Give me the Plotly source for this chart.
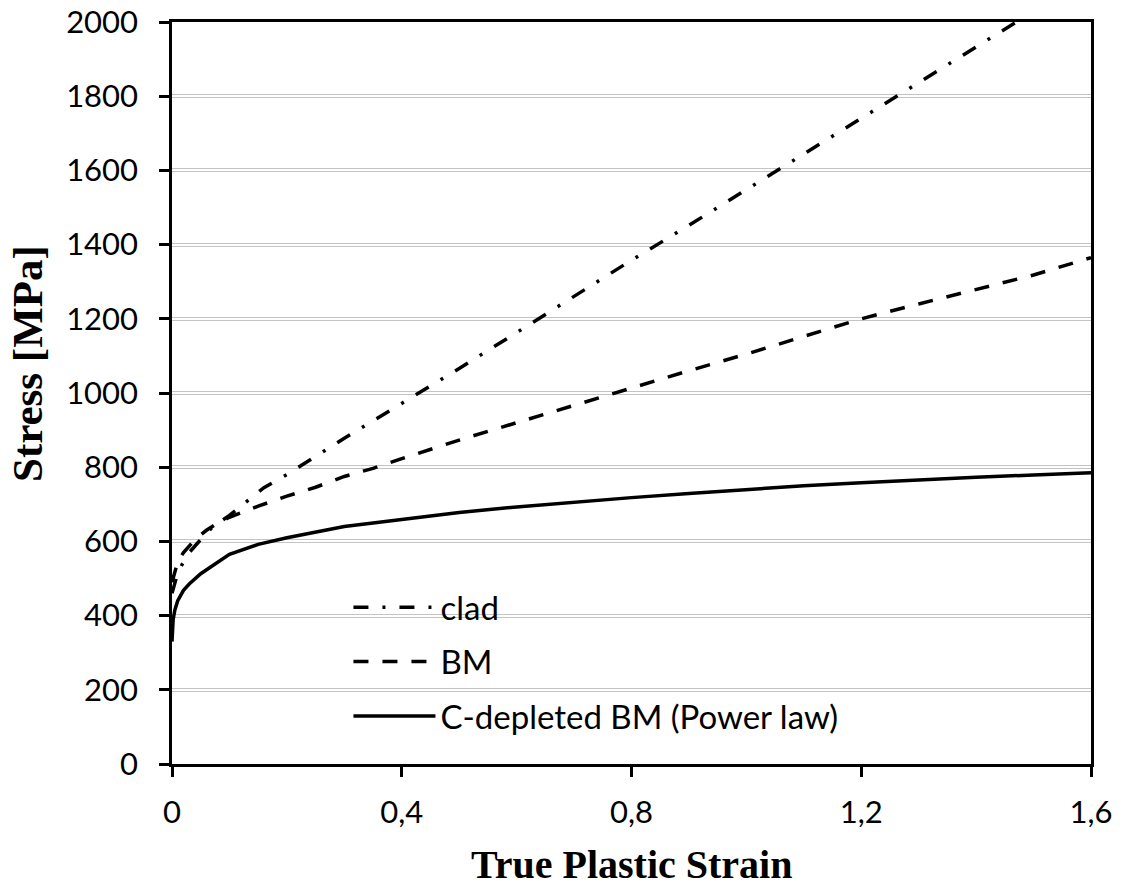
import plotly.graph_objects as go

# ---- data ----
clad_x = [0, 0.005, 0.01, 0.02, 0.03, 0.05, 0.07, 0.1, 0.13, 0.16, 0.2, 0.25, 0.3, 0.35, 0.4,
          0.5, 0.6, 0.7, 0.8, 0.9, 1.0, 1.1, 1.2, 1.3, 1.4, 1.47]
clad_y = [460, 490, 515, 545, 570, 605, 638, 670, 707, 745, 780, 830, 878, 925, 972,
          1066, 1163, 1260, 1358, 1452, 1548, 1645, 1740, 1835, 1932, 2000]

bm_x = [0, 0.005, 0.01, 0.02, 0.04, 0.06, 0.08, 0.1, 0.15, 0.2, 0.25, 0.3, 0.35, 0.4,
        0.5, 0.6, 0.7, 0.8, 0.9, 1.0, 1.1, 1.2, 1.3, 1.4, 1.5, 1.6]
bm_y = [490, 520, 545, 570, 605, 630, 650, 665, 695, 722, 746, 775, 797, 823,
        873, 920, 967, 1012, 1060, 1105, 1153, 1200, 1240, 1280, 1318, 1365]

cdep_x = [0, 0.002, 0.005, 0.01, 0.02, 0.03, 0.05, 0.075, 0.1, 0.15, 0.2, 0.3, 0.4, 0.5,
          0.6, 0.7, 0.8, 0.9, 1.0, 1.1, 1.2, 1.3, 1.4, 1.5, 1.6]
cdep_y = [330, 390, 415, 440, 468, 485, 513, 540, 565, 592, 610, 640, 660, 678,
          693, 706, 718, 729, 740, 750, 758, 766, 773, 779, 785]

series_names = ["clad", "BM", "C-depleted BM (Power law)"]

x_tickvals = [0, 0.4, 0.8, 1.2, 1.6]
x_ticktext = ["0", "0,4", "0,8", "1,2", "1,6"]
y_tickvals = [0, 200, 400, 600, 800, 1000, 1200, 1400, 1600, 1800, 2000]
y_ticktext = [str(v) for v in y_tickvals]

x_title = "True Plastic Strain"
y_title = "Stress [MPa]"

# ---- figure ----
TICKFONT = dict(family="Lato", size=31, color="black")
XTITLEFONT = dict(family="Liberation Serif", size=40, color="black")
YTITLEFONT = dict(family="Liberation Serif", size=43, color="black")

fig = go.Figure()
fig.add_trace(go.Scatter(x=clad_x, y=clad_y, mode="lines", name=series_names[0],
                         legendgroup="a",
                         line=dict(color="black", width=3.5, dash="15px,14px,3px,14px")))
fig.add_trace(go.Scatter(x=bm_x, y=bm_y, mode="lines", name=series_names[1],
                         legendgroup="b",
                         line=dict(color="black", width=3.5, dash="15px,14px")))
fig.add_trace(go.Scatter(x=cdep_x, y=cdep_y, mode="lines", name=series_names[2],
                         legendgroup="c",
                         line=dict(color="black", width=3.5)))
# helper trace so the overlay axis (inner white part of double gridlines) is drawn
fig.add_trace(go.Scatter(x=[x_tickvals[0]], y=[y_tickvals[0]], yaxis="y2", mode="markers",
                         marker=dict(opacity=0), showlegend=False, hoverinfo="skip"))

fig.update_layout(
    template="none",
    width=1123, height=886,
    margin=dict(l=172, r=32, t=22, b=122, autoexpand=False),
    paper_bgcolor="white", plot_bgcolor="white",
    showlegend=True,
    legend=dict(x=0.192, y=0.249, xanchor="left", yanchor="top",
                bgcolor="rgba(0,0,0,0)", font=dict(family="Lato", size=33, color="black"),
                itemwidth=82, tracegroupgap=8.5, traceorder="grouped"),
    xaxis=dict(range=[0, 1.6], tickvals=x_tickvals, ticktext=x_ticktext,
               showgrid=False, zeroline=False, automargin=False,
               showline=True, linecolor="black", linewidth=2.5, mirror=True,
               ticks="outside", ticklen=10, tickwidth=2.5, tickcolor="black",
               tickfont=TICKFONT, ticklabelstandoff=9),
    yaxis=dict(range=[0, 2000], tickvals=y_tickvals, ticktext=y_ticktext,
               showgrid=True, gridcolor="#c4c4c4", gridwidth=4, zeroline=False, automargin=False,
               showline=True, linecolor="black", linewidth=2.5, mirror=True,
               ticks="outside", ticklen=10, tickwidth=2.5, tickcolor="black",
               tickfont=TICKFONT, ticklabelstandoff=15),
    yaxis2=dict(range=[0, 2000], overlaying="y", side="left", tickvals=y_tickvals,
                showgrid=True, gridcolor="white", gridwidth=1.6, zeroline=False, automargin=False,
                showline=False, ticks="", showticklabels=False),
    annotations=[
        dict(text="<b>" + x_title + "</b>", xref="paper", yref="paper", x=0.5, y=-0.136,
             xanchor="center", yanchor="middle", showarrow=False, font=XTITLEFONT),
        dict(text="<b>" + y_title + "</b>", xref="paper", yref="paper", x=-0.157, y=0.54,
             xanchor="center", yanchor="middle", textangle=-90, showarrow=False, font=YTITLEFONT),
    ],
)

fig.write_html("out.html", config={"displayModeBar": False},
               post_script="document.body.style.margin='0';")
